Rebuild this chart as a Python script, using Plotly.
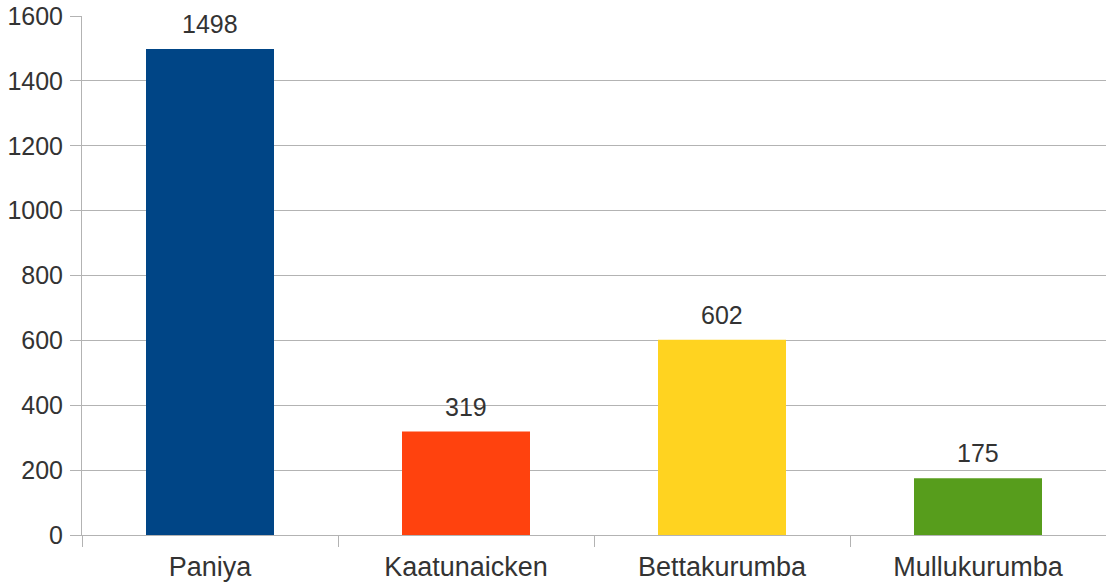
import plotly.graph_objects as go

categories = ["Paniya", "Kaatunaicken", "Bettakurumba", "Mullukurumba"]
values = [1498, 319, 602, 175]
colors = ["#004586", "#ff420e", "#ffd320", "#579d1c"]
y_ticks = [0, 200, 400, 600, 800, 1000, 1200, 1400, 1600]

fig = go.Figure(go.Bar(
    x=categories, y=values, marker_color=colors, marker_line_width=0,
))
for c, v in zip(categories, values):
    fig.add_annotation(x=c, y=v, text=str(v), showarrow=False, yanchor="bottom",
                       yshift=9, font=dict(size=25, color="#333333", family="Liberation Sans"))
fig.update_layout(
    width=1106, height=584, plot_bgcolor="white", paper_bgcolor="white",
    margin=dict(l=82, r=0, t=16, b=49), bargap=0.5, showlegend=False,
    font=dict(family="Liberation Sans", size=25, color="#333333"),
)
fig.update_yaxes(range=[0, 1600], tickvals=y_ticks, showgrid=True, gridcolor="#b3b3b3",
                 showline=True, linecolor="#b3b3b3", ticks="outside", ticklen=11,
                 tickcolor="#b3b3b3", zeroline=False, automargin=False,
                 tickfont=dict(size=25), ticklabelstandoff=2, ticklabeloverflow="allow")
fig.update_xaxes(showline=True, linecolor="#b3b3b3", ticks="outside", ticklen=11,
                 tickcolor="#b3b3b3", tickson="boundaries", automargin=False,
                 tickfont=dict(size=27), ticklabelstandoff=8)
fig.write_html("out.html", config={"displayModeBar": False},
               post_script="document.body.style.margin='0';document.body.style.overflow='hidden';")
